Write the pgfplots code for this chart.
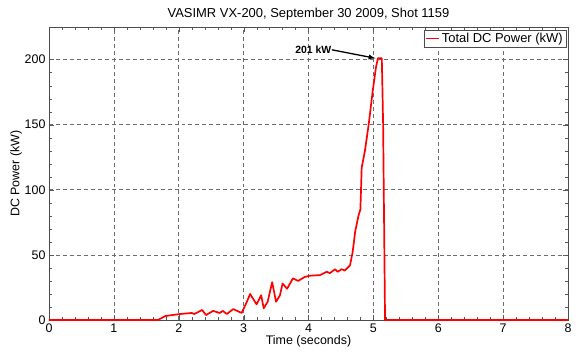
\documentclass[border=0pt]{standalone}
\usepackage{pgfplots}
\pgfplotsset{compat=1.18}
\usepackage{fontspec}
\setmainfont{Liberation Sans}
\begin{document}
\begin{tikzpicture}
\begin{axis}[
  name=ax,
  scale only axis,
  width=519bp, height=293bp,
  xmin=0, xmax=8, ymin=0, ymax=225,
  xtick={0,1,...,8}, ytick={0,50,100,150,200},
  minor x tick num=4, minor y tick num=4,
  tick align=inside,
  major tick length=5bp, minor tick length=3bp,
  tick style={gray!70!black},
  axis line style={gray!60!black},
  grid=major,
  major grid style={dash pattern=on 4pt off 3pt, gray!85!black, line width=0.6pt},
  /pgf/number format/assume math mode=true,
  tick label style={font=\fontsize{12.5}{14}\selectfont},
  label style={font=\fontsize{12.5}{14}\selectfont},
  xlabel={Time (seconds)},
  ylabel={DC Power (kW)},
  xlabel style={yshift=4bp},
  ylabel style={yshift=-4bp},
  title={VASIMR VX-200, September 30 2009, Shot 1159},
  title style={font=\fontsize{13}{15}\selectfont, yshift=-3bp},
  legend style={at={(0.996,0.99)}, anchor=north east, draw=gray!60!black, fill=white,
    font=\fontsize{13}{15}\selectfont, inner sep=1pt, row sep=0pt,
    legend cell align=left},
  legend image code/.code={\draw[#1] (0bp,0bp) -- (13bp,0bp);},
]
\addplot[red, line width=1.7pt, line join=round] coordinates {
(0,0) (1.68,0) (1.79,3) (1.9,3.8) (2.02,4.6) (2.2,5.4) (2.24,4.6) (2.36,7.7) (2.42,3.8)
(2.53,7) (2.63,5.4) (2.68,7) (2.74,4.6) (2.84,8.4) (2.97,5.4)
(3.05,14) (3.1,20) (3.2,12) (3.27,19) (3.31,9) (3.37,14) (3.44,29) (3.5,14) (3.56,19)
(3.6,28) (3.67,24) (3.76,32) (3.84,30) (3.94,33) (4.02,34) (4.18,34.5) (4.28,37)
(4.33,36) (4.41,39) (4.45,37) (4.51,39) (4.56,38) (4.64,42) (4.68,52) (4.72,68)
(4.77,80) (4.8,85) (4.82,117) (4.87,130) (4.93,151) (4.99,176) (5.04,194) (5.07,201)
(5.13,201) (5.15,151) (5.18,0) (8,0)
};
\addlegendentry{Total DC Power (kW)}
\draw[-latex, line width=1.3pt] (axis cs:4.36,207.5) -- (axis cs:5.03,201);
\node[anchor=east, inner sep=1pt, font=\fontsize{10.5}{12}\selectfont\bfseries] at (axis cs:4.37,207.5) {201 kW};
\end{axis}
\pgfresetboundingbox
\path ([shift={(-49bp,-33bp)}]ax.south west) rectangle ([shift={(8bp,27bp)}]ax.north east);
\end{tikzpicture}
\end{document}
